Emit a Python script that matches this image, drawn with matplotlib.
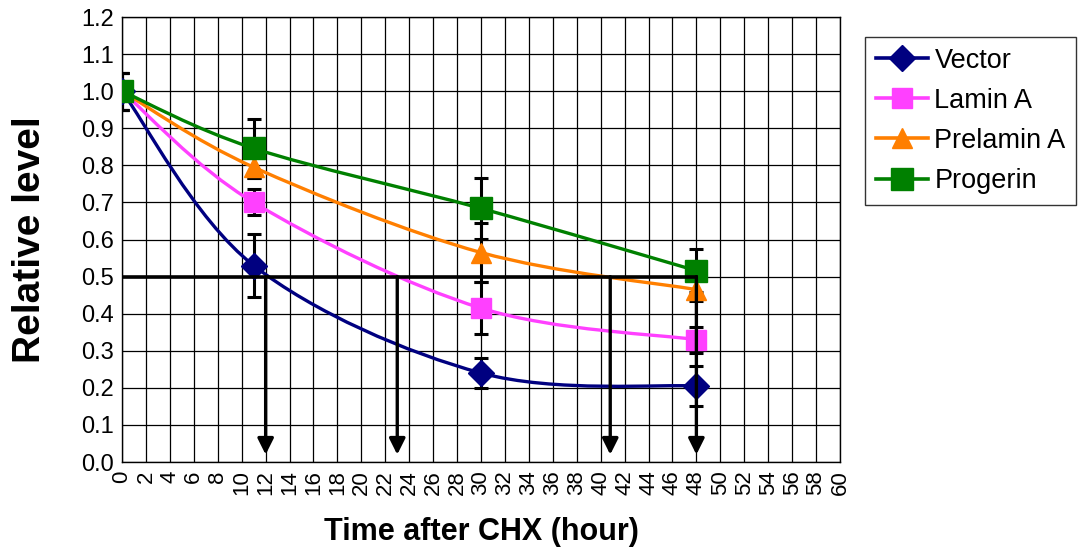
import matplotlib
matplotlib.use('Agg')
import matplotlib.pyplot as plt
from matplotlib.path import Path
from matplotlib.patches import PathPatch
from matplotlib.lines import Line2D
import numpy as np

plt.rcParams['font.family'] = ['Liberation Sans', 'DejaVu Sans']

# data
hours = [0, 11, 30, 48]
names = ['Vector', 'Lamin A', 'Prelamin A', 'Progerin']
vector = [1.0, 0.53, 0.24, 0.205]
lamin_a = [1.0, 0.70, 0.415, 0.33]
prelamin_a = [1.0, 0.795, 0.565, 0.465]
progerin = [1.0, 0.846, 0.684, 0.516]
vector_err = [0.05, 0.085, 0.04, 0.055]
lamin_a_err = [0.05, 0.035, 0.07, 0.035]
prelamin_a_err = [0.05, 0.03, 0.08, 0.03]
progerin_err = [0.05, 0.08, 0.083, 0.058]
half_life = [12, 23, 40.8, 48]

series = [vector, lamin_a, prelamin_a, progerin]
errors = [vector_err, lamin_a_err, prelamin_a_err, progerin_err]
colors = ['#000080', '#FF40FF', '#FF7F00', '#008000']
markers = ['D', 's', '^', 's']
msizes = [13, 14, 15, 16]


def smooth_path(x, y):
    # Excel style smoothed line: cubic bezier through the points
    pts = np.column_stack([x, y]).astype(float)
    ext = np.vstack([pts[0], pts, pts[-1]])
    verts = [pts[0]]
    codes = [Path.MOVETO]
    for i in range(len(pts) - 1):
        p0, p1, p2, p3 = ext[i], ext[i + 1], ext[i + 2], ext[i + 3]
        verts += [p1 + (p2 - p0) / 6, p2 - (p3 - p1) / 6, p2]
        codes += [Path.CURVE4] * 3
    return Path(verts, codes)


fig = plt.figure(figsize=(10.83, 5.51), dpi=100)
ax = fig.add_axes([0.1127, 0.1615, 0.6629, 0.8075])

for y, e, c, m, ms in zip(series, errors, colors, markers, msizes):
    ax.errorbar(hours, y, yerr=e, fmt='none', ecolor='black', elinewidth=2.2,
                capsize=5, capthick=2.2, zorder=3)
    ax.add_patch(PathPatch(smooth_path(hours, y), facecolor='none',
                           edgecolor=c, lw=2.4, zorder=4))
    ax.plot(hours, y, linestyle='None', marker=m, ms=ms, color=c,
            markeredgecolor=c, zorder=5)

ax.plot([0, 48], [0.5, 0.5], color='black', lw=2.6, zorder=6)
for xh in half_life:
    ax.annotate('', xy=(xh, 0.02), xytext=(xh, 0.5),
                arrowprops=dict(arrowstyle='-|>', color='black', lw=2.4,
                                mutation_scale=24, shrinkA=0, shrinkB=0),
                zorder=6)

ax.set_xlim(0, 60)
ax.set_ylim(0, 1.2)
ax.set_xticks(np.arange(0, 61, 2))
ax.set_yticks(np.arange(0, 1.21, 0.1))
ax.set_yticklabels(['%.1f' % v for v in np.arange(0, 1.21, 0.1)])
ax.tick_params(axis='x', labelrotation=90, labelsize=16, length=0, pad=6)
ax.tick_params(axis='y', labelsize=17, length=0, pad=6)
ax.grid(True, color='black', lw=0.9)
ax.set_axisbelow(True)
for s in ax.spines.values():
    s.set_color('black')
    s.set_linewidth(1.0)

ax.set_xlabel('Time after CHX (hour)', fontsize=22, fontweight='bold', labelpad=16)
ax.set_ylabel('Relative level', fontsize=28, fontweight='bold', labelpad=24)

handles = [Line2D([], [], color=c, lw=2.6, marker=m, ms=ms)
           for c, m, ms in zip(colors, markers, msizes)]
leg = fig.legend(handles, names, loc='upper left',
                 bbox_to_anchor=(0.799, 0.933), fontsize=19.5, frameon=True,
                 fancybox=False, edgecolor='black', handlelength=1.9,
                 handletextpad=0.25, borderpad=0.4, labelspacing=0.52,
                 borderaxespad=0)
leg.get_frame().set_linewidth(1.0)

fig.savefig('out.png', dpi=100)
